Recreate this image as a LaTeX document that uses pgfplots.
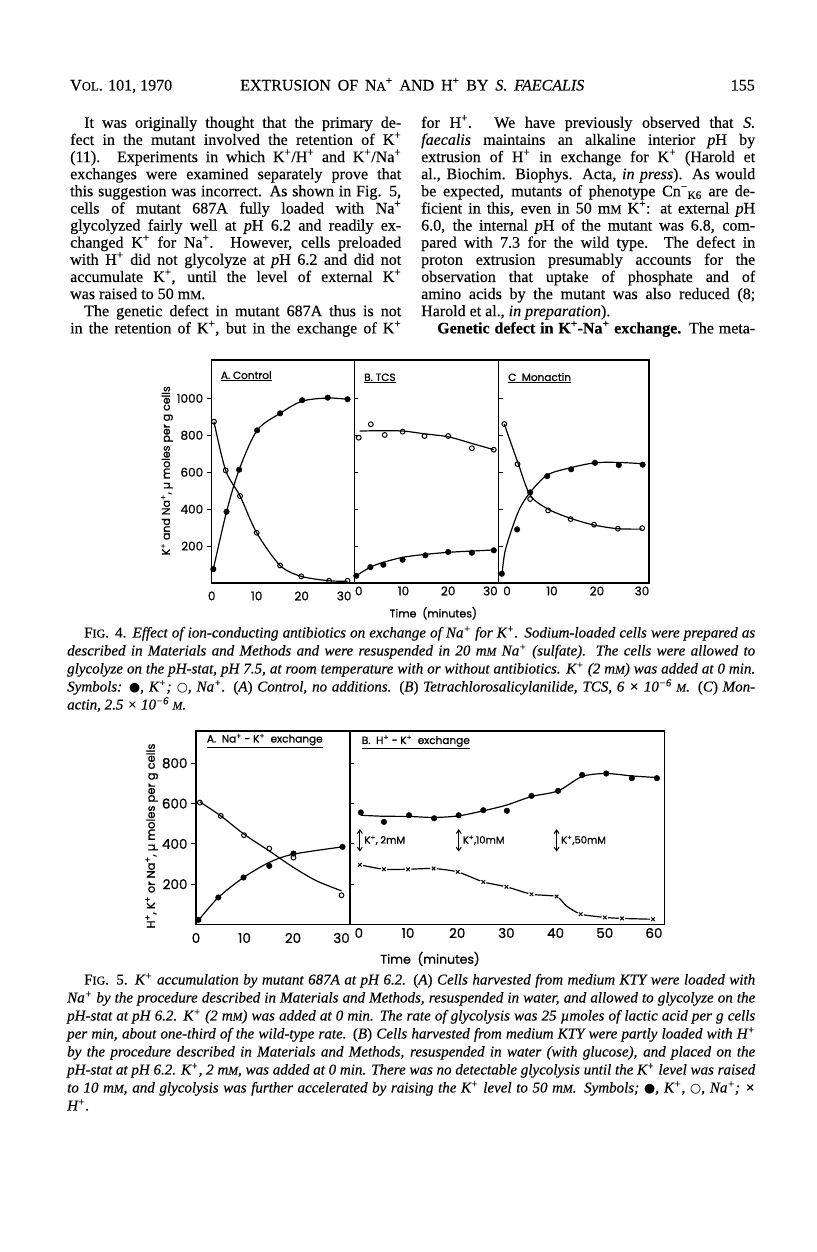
\documentclass[border=0pt]{standalone}
\usepackage{fontspec}
\setmainfont{Liberation Serif}[FakeBold=0.3]
\newfontfamily\figfont{Poppins}[FakeBold=0.9]
\newfontfamily\sym{DejaVu Sans}
\usepackage{graphicx}
\usepackage{pgfplots}
\pgfplotsset{compat=1.18}
\usetikzlibrary{arrows.meta}

\newcommand\up[1]{\textsuperscript{#1}}
\newcommand\mM{m\scalebox{0.78}{M}}
\newcommand\fdot{{\sym\scalebox{0.85}{●}}}
\newcommand\edot{{\sym\scalebox{0.85}{○}}}
% place a line of text at page pixel (x, baseline y from top)
\newcommand\tl[3]{\node[anchor=base west,inner sep=0pt] at ({#1pt},{(1252-#2)*1pt}) {#3};}
\newcommand\jl[4]{\node[anchor=base west,inner sep=0pt] at ({#1pt},{(1252-#2)*1pt}) {\makebox[#3pt][s]{#4}};}

\pgfplotsset{
  fig/.style={scale only axis, clip=false, ymin=0,
    axis line style={line width=1.3pt},
    every tick/.style={black, line width=1pt},
    tick label style={font=\figfont\fontsize{12}{12}\selectfont},
    xtick style={draw=none},
    ytick pos=left,
    ytick={200,400,600,800,1000},
    xtick={0,10,20,30}, xticklabels={0,10,20,30\hspace*{5pt}},
  },
  outy/.style={yticklabels={200,400,600,800,1000}, tick align=outside, major tick length=5pt},
  iny/.style={yticklabels={}, tick align=inside, major tick length=4pt},
  curve/.style={black, line width=1.2pt, smooth, no marks},
  kpt/.style={only marks, mark=*, mark size=2.8pt, black},
  napt/.style={only marks, mark=o, black, mark options={fill=white, line width=1pt}, mark size=2.4pt},
}

\begin{document}
\begin{tikzpicture}
\path[use as bounding box, fill=white] (0pt,0pt) rectangle (816pt,1252pt);

% ---------- running head
\begingroup\fontsize{16}{17}\selectfont
\tl{70}{90.5}{V\scalebox{0.8}{OL}. 101, 1970}
\jl{240}{90.5}{344}{EXTRUSION OF N\scalebox{0.8}{A}\up{+} AND H\up{+} BY \textit{S. FAECALIS}}
\node[anchor=base east,inner sep=0pt] at (755pt,{(1252-90.5)*1pt}) {155};

% ---------- left column
\jl{84}{127.8}{317}{It was originally thought that the primary de-}
\jl{70}{144.9}{331}{fect in the mutant involved the retention of K\up{+}}
\jl{70}{162.1}{331}{(11). Experiments in which K\up{+}/H\up{+} and K\up{+}/Na\up{+}}
\jl{70}{179.2}{331}{exchanges were examined separately prove that}
\jl{70}{196.3}{331}{this suggestion was incorrect. As shown in Fig. 5,}
\jl{70}{213.5}{331}{cells of mutant 687A fully loaded with Na\up{+}}
\jl{70}{230.6}{331}{glycolyzed fairly well at \textit{p}H 6.2 and readily ex-}
\jl{70}{247.7}{331}{changed K\up{+} for Na\up{+}. However, cells preloaded}
\jl{70}{264.8}{331}{with H\up{+} did not glycolyze at \textit{p}H 6.2 and did not}
\jl{70}{282.0}{331}{accumulate K\up{+}, until the level of external K\up{+}}
\tl{70}{299.1}{was raised to 50 \mM.}
\jl{84}{316.2}{317}{The genetic defect in mutant 687A thus is not}
\jl{70}{333.4}{331}{in the retention of K\up{+}, but in the exchange of K\up{+}}

% ---------- right column
\jl{421}{127.8}{334}{for H\up{+}. We have previously observed that \textit{S.}}
\jl{421}{144.9}{334}{\textit{faecalis} maintains an alkaline interior \textit{p}H by}
\jl{421}{162.1}{334}{extrusion of H\up{+} in exchange for K\up{+} (Harold et}
\jl{421}{179.2}{334}{al., Biochim. Biophys. Acta, \textit{in press}). As would}
\jl{421}{196.3}{334}{be expected, mutants of phenotype Cn\up{−}\textsubscript{K6} are de-}
\jl{421}{213.5}{334}{ficient in this, even in 50 \mM{} K\up{+}: at external \textit{p}H}
\jl{421}{230.6}{334}{6.0, the internal \textit{p}H of the mutant was 6.8, com-}
\jl{421}{247.7}{334}{pared with 7.3 for the wild type. The defect in}
\jl{421}{264.8}{334}{proton extrusion presumably accounts for the}
\jl{421}{282.0}{334}{observation that uptake of phosphate and of}
\jl{421}{299.1}{334}{amino acids by the mutant was also reduced (8;}
\tl{421}{316.2}{Harold et al., \textit{in preparation}).}
\jl{437}{333.4}{318}{\textbf{Genetic defect in K\up{+}-Na\up{+} exchange.} The meta-}
\endgroup

% ---------- Fig. 4, panel A
\begin{axis}[fig, outy, at={(211.7pt,892pt)}, anchor=north west,
  width=142.6pt, height=223pt, xmin=0, xmax=31.7, ymax=1208]
\addplot[curve] coordinates {(0.36,75) (3.3,386) (6.1,614) (10.1,827) (15.2,919) (20.1,985) (25.8,1002) (30.2,995)};
\addplot[curve] coordinates {(0.5,874) (3.1,610) (6.3,471) (10,272) (15.2,95) (19.9,36) (26.1,12) (30.2,10)};
\addplot[kpt] coordinates {(0.36,75) (3.3,386) (6.1,614) (10.1,827) (15.2,919) (20.1,990) (25.8,1004) (30.2,995)};
\addplot[napt] coordinates {(0.5,874) (3.1,610) (6.3,471) (10,272) (15.2,95) (19.9,36) (26.1,12) (30.2,12)};
\end{axis}

% ---------- Fig. 4, panel B
\begin{axis}[fig, iny, at={(354.3pt,892pt)}, anchor=north west,
  width=144.4pt, height=223pt, xmin=-1.0, xmax=31.3, ymax=1208]
\addplot[curve] coordinates {(0.2,823) (5,825) (10,823) (14.7,808) (20,792) (25.3,756) (30.2,722)};
\addplot[curve] coordinates {(-0.56,39) (2.6,86) (5.5,112) (9.8,139) (14.9,155) (20,166) (25.3,173) (30.2,179)};
\addplot[kpt] coordinates {(-0.56,39) (2.6,86) (5.5,99) (9.8,126) (14.9,150) (20,168) (25.3,164) (30.2,177)};
\addplot[napt] coordinates {(0,787) (2.7,860) (5.8,802) (9.8,820) (14.7,796) (20,796) (25.3,730) (30.2,722)};
\end{axis}

% ---------- Fig. 4, panel C
\begin{axis}[fig, iny, at={(498.7pt,892pt)}, anchor=north west,
  width=150.3pt, height=223pt, xmin=-1.84, xmax=31.56, ymax=1208,
  xticklabels={0,10,20,30}]
\addplot[curve] coordinates {(-0.6,861) (2.35,657) (5.15,476) (9.15,400) (14.15,350) (19.35,314) (24.65,294) (30.05,292)};
\addplot[curve] coordinates {(-1.05,61) (-0.45,169) (1.05,290) (2.85,404) (5.15,491) (8.95,585) (14.25,625) (19.55,651) (24.85,653) (30.15,646)};
\addplot[kpt] coordinates {(-1.15,50) (2.25,290) (5.15,491) (8.95,579) (14.25,616) (19.55,651) (24.85,639) (30.15,641)};
\addplot[napt] coordinates {(-0.6,861) (2.35,644) (5.15,455) (9.15,393) (14.15,346) (19.35,316) (24.65,294) (30.05,297)};
\end{axis}

% Fig. 4 labels
\node[rotate=90,font=\figfont\fontsize{11}{11}\selectfont] at (167pt,{(1252-470.8)*1pt}) {K\up{+} and Na\up{+}, µ moles per g cells};
\node[font=\figfont\fontsize{11}{11}\selectfont] at (433.3pt,{(1252-613.3)*1pt}) {Time\ \ (minutes)};
\begin{scope}[every node/.style={anchor=base west,inner sep=0pt,font=\figfont\fontsize{10.5}{11}\selectfont}]
\node at (220.7pt,{(1252-379)*1pt}) {\underline{A. Control}};
\node at (364pt,{(1252-381)*1pt}) {\underline{B. TCS}};
\node at (508pt,{(1252-381)*1pt}) {\underline{C\ \ Monactin}};
\end{scope}

% ---------- Fig. 4 caption
\begingroup\fontsize{15}{18}\selectfont\itshape
\jl{84}{637.5}{671}{\textup{F\scalebox{0.8}{IG}. 4.} Effect of ion-conducting antibiotics on exchange of Na\up{+} for K\up{+}. Sodium-loaded cells were prepared as}
\jl{67}{655.5}{688}{described in Materials and Methods and were resuspended in 20 \mM{} Na\up{+} (sulfate). The cells were allowed to}
\jl{67}{673.5}{688}{glycolyze on the pH-stat, pH 7.5, at room temperature with or without antibiotics. K\up{+} (2 \mM) was added at 0 min.}
\jl{67}{691.5}{688}{Symbols: \fdot, K\up{+}; \edot, Na\up{+}. \textup{(}A\textup{)} Control, no additions. \textup{(}B\textup{)} Tetrachlorosalicylanilide, TCS, 6 × 10\up{−6} \scalebox{0.78}{M}. \textup{(}C\textup{)} Mon-}
\tl{67}{709.5}{actin, 2.5 × 10\up{−6} \scalebox{0.78}{M}.}
\endgroup

% ---------- Fig. 5, panel A
\begin{axis}[fig, outy, at={(196pt,521pt)}, anchor=north west,
  width=154pt, height=193.5pt, xmin=0, xmax=31.75, ymax=960,
  ytick={200,400,600,800}, yticklabels={200,400,600,800},
  xticklabels={0,10,20,30},
  tick label style={font=\figfont\fontsize{13.5}{13.5}\selectfont}]
\addplot[curve] coordinates {(0.8,608) (5.1,539) (9.9,448) (15.1,365) (20.1,283) (24.9,216) (30,167)};
\addplot[curve] coordinates {(0.6,23) (4.6,134) (9.8,233) (15.1,308) (20.1,349) (30.2,385)};
\addplot[kpt] coordinates {(0.5,23) (4.6,134) (9.8,233) (15.1,291) (20.1,352) (30.2,385)};
\addplot[napt] coordinates {(0.8,605) (5.1,539) (9.9,443) (15.1,377) (20.1,332) (30,145)};
\end{axis}

% ---------- Fig. 5, panel B
\begin{axis}[fig, iny, at={(350pt,521pt)}, anchor=north west,
  width=314.3pt, height=193.5pt, xmin=-1.8, xmax=62.1, ymax=960,
  ytick={200,400,600,800},
  xtick={0,10,20,30,40,50,60}, xticklabels={0,10,20,30,40,50,60},
  tick label style={font=\figfont\fontsize{13.5}{13.5}\selectfont}]
\addplot[curve] coordinates {(0.4,542) (4.9,537) (10.2,536) (15.3,531) (20.3,539) (25.3,564) (30.1,593) (35.1,635) (40.5,663) (45.4,734) (50.3,749) (55.5,737) (60.6,729)};
\addplot[kpt] coordinates {(0.4,556) (5.1,509) (10.2,542) (15.3,527) (20.3,542) (25.3,567) (30.1,564) (35.1,638) (40.5,663) (45.4,742) (50.3,749) (55.5,726) (60.6,726)};
\addplot[black, line width=1.2pt, smooth, tension=0.35, no marks] coordinates {(0.2,296) (5.1,274) (10,274) (15.2,278) (20.1,261) (25.3,211) (30,187) (35.1,150) (40.2,139) (42.2,92) (45.1,51) (50,35) (53.5,30) (59.8,26)};
\addplot[only marks, mark=*, mark size=3pt, white] coordinates {(0.2,296) (5.1,274) (10,274) (15.2,278) (20.1,261) (25.3,211) (30,187) (35.1,150) (40.2,139) (45.1,51) (50,35) (53.5,30) (59.8,26)};
\addplot[only marks, mark=x, mark size=2.5pt, black, mark options={line width=1pt}] coordinates {(0.2,296) (5.1,274) (10,274) (15.2,278) (20.1,261) (25.3,211) (30,187) (35.1,150) (40.2,139) (45.1,51) (50,35) (53.5,30) (59.8,26)};
\draw[{Straight Barb[length=3.5pt,width=5pt]}-{Straight Barb[length=3.5pt,width=5pt]}, line width=1pt] (axis cs:0.2,473) -- (axis cs:0.2,362);
\draw[{Straight Barb[length=3.5pt,width=5pt]}-{Straight Barb[length=3.5pt,width=5pt]}, line width=1pt] (axis cs:20.3,473) -- (axis cs:20.3,362);
\draw[{Straight Barb[length=3.5pt,width=5pt]}-{Straight Barb[length=3.5pt,width=5pt]}, line width=1pt] (axis cs:40.2,473) -- (axis cs:40.2,362);
\begin{scope}[every node/.style={anchor=west,inner sep=0pt,font=\figfont\fontsize{10}{10}\selectfont}]
\node at (axis cs:1.1,418) {K\up{+}, 2mM};
\node at (axis cs:21.1,418) {K\up{+},10mM};
\node at (axis cs:41.1,418) {K\up{+},50mM};
\end{scope}
\end{axis}

% Fig. 5 labels
\node[rotate=90,font=\figfont\fontsize{11.5}{12}\selectfont] at (151.7pt,{(1252-836)*1pt}) {H\up{+}, K\up{+} or Na\up{+}, µ moles per g cells};
\node[font=\figfont\fontsize{12.5}{12.5}\selectfont] at (430pt,{(1252-959)*1pt}) {Time\ \ (minutes)};
\begin{scope}[every node/.style={anchor=base west,inner sep=0pt,font=\figfont\fontsize{10.5}{11}\selectfont}]
\node at (206.7pt,{(1252-742.5)*1pt}) {\underline{A.\ \ Na\up{+} - K\up{+}\ \ exchange}};
\node at (361.7pt,{(1252-744)*1pt}) {\underline{B.\ \ H\up{+} - K\up{+}\ \ exchange}};
\end{scope}

% ---------- Fig. 5 caption
\begingroup\fontsize{15}{18}\selectfont\itshape
\jl{84}{984.5}{671}{\textup{F\scalebox{0.8}{IG}. 5.} K\up{+} accumulation by mutant 687A at pH 6.2. \textup{(}A\textup{)} Cells harvested from medium KTY were loaded with}
\jl{67}{1002.5}{688}{Na\up{+} by the procedure described in Materials and Methods, resuspended in water, and allowed to glycolyze on the}
\jl{67}{1020.5}{688}{pH-stat at pH 6.2. K\up{+} (2 \mM) was added at 0 min. The rate of glycolysis was 25 µmoles of lactic acid per g cells}
\jl{67}{1038.5}{688}{per min, about one-third of the wild-type rate. \textup{(}B\textup{)} Cells harvested from medium KTY were partly loaded with H\up{+}}
\jl{67}{1056.5}{688}{by the procedure described in Materials and Methods, resuspended in water (with glucose), and placed on the}
\jl{67}{1074.5}{688}{pH-stat at pH 6.2. K\up{+}, 2 \mM, was added at 0 min. There was no detectable glycolysis until the K\up{+} level was raised}
\jl{67}{1092.5}{688}{to 10 \mM, and glycolysis was further accelerated by raising the K\up{+} level to 50 \mM. Symbols; \fdot, K\up{+}, \edot, Na\up{+}; ×}
\tl{67}{1110.5}{H\up{+}.}
\endgroup
\end{tikzpicture}
\end{document}
